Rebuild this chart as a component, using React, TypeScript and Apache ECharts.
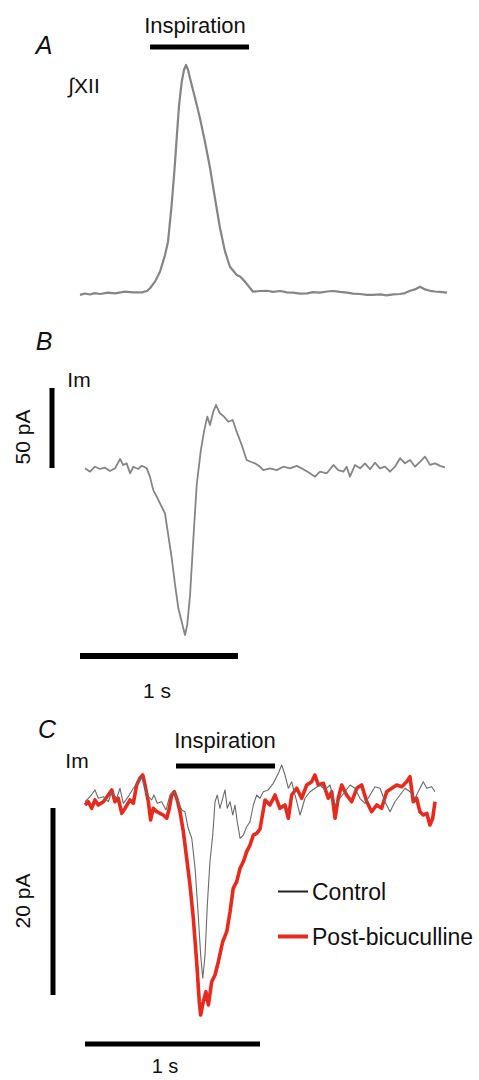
import React, { useEffect, useRef } from "react";
import * as echarts from "echarts";

// Panel A: integrated XII activity (arbitrary units, peak = 100), time in s
const traceA: [number, number][] = [
  [0, -0.4], [0.032, 0.2], [0.063, -0.2], [0.095, 0.4], [0.127, 0], [0.177, 0.6], [0.222, 0.3],
  [0.285, 1.0], [0.335, 0.7], [0.392, 0.7], [0.424, 1.3], [0.443, 2.5], [0.475, 5.4], [0.506, 9.7],
  [0.538, 17.0], [0.557, 22.8], [0.58, 38.9], [0.597, 53.4], [0.612, 68.1], [0.627, 82.5],
  [0.644, 92.7], [0.658, 97.8], [0.671, 100], [0.684, 97.8], [0.696, 94.3], [0.728, 85.6],
  [0.759, 76.9], [0.791, 66.5], [0.823, 55.0], [0.854, 41.9], [0.886, 28.8], [0.918, 18.5],
  [0.949, 11.9], [0.992, 8.3], [1.013, 7.6], [1.044, 5.4], [1.095, 1.0], [1.139, 1.3], [1.184, 1.4],
  [1.222, 0.9], [1.266, 1.3], [1.31, 0.7], [1.348, 0.6], [1.392, 0.2], [1.437, 0.3], [1.475, 0.8],
  [1.519, 0.6], [1.563, 1.1], [1.601, 1.3], [1.646, 0.9], [1.69, 0.6], [1.728, 0.2], [1.772, 0],
  [1.816, -0.4], [1.854, -0.4], [1.899, -0.2], [1.943, -0.6], [1.981, -0.2], [2.025, 0], [2.057, 0.4],
  [2.089, 1.4], [2.12, 2.0], [2.152, 3.2], [2.184, 2.0], [2.215, 1.4], [2.247, 1.1], [2.278, 0.9],
  [2.323, 0.6],
];

// Panel B: membrane current Im (pA), time in s
const traceB: [number, number][] = [
  [0, -0.2], [0.032, -2.3], [0.063, 0.8], [0.095, -0.6], [0.127, 0.2], [0.158, -1.9], [0.19, -0.2],
  [0.222, 5.6], [0.242, 1.9], [0.264, 2.9], [0.285, -3.3], [0.306, 0.8], [0.337, -0.6], [0.359, 1.4],
  [0.391, -0.2], [0.411, -5.4], [0.432, -13.8], [0.454, -17.9], [0.485, -24.2], [0.506, -28.3],
  [0.527, -41.9], [0.549, -56.4], [0.57, -73.1], [0.591, -87.7], [0.612, -96.1], [0.633, -104.4],
  [0.647, -98.1], [0.665, -79.4], [0.686, -43.9], [0.707, -10.6], [0.732, 10.2], [0.753, 22.7],
  [0.774, 32.1], [0.791, 26.9], [0.812, 35.2], [0.829, 39.4], [0.854, 34.2], [0.88, 32.1],
  [0.907, 28.9], [0.935, 30.0], [0.96, 22.7], [0.992, 14.4], [1.023, 5.0], [1.049, 3.9], [1.076, 2.9],
  [1.108, 0.8], [1.128, -1.3], [1.171, -0.2], [1.213, -1.3], [1.255, 0.8], [1.297, -0.2], [1.34, 1.3],
  [1.382, -0.8], [1.424, -3.3], [1.456, -5.4], [1.487, -2.3], [1.53, -3.3], [1.572, 1.9], [1.603, -1.3],
  [1.635, -2.3], [1.656, 0.8], [1.677, -5.4], [1.709, 1.9], [1.741, -0.2], [1.772, 2.9], [1.804, -0.8],
  [1.835, 3.3], [1.867, -0.2], [1.899, 0.8], [1.93, -2.3], [1.962, 0.8], [1.994, 6.1], [2.025, 2.9],
  [2.057, 5.0], [2.089, 0.8], [2.12, 3.9], [2.152, 7.1], [2.184, 1.9], [2.215, 2.9], [2.247, 1.3],
  [2.278, 0.4],
];

// Panel C: Im (pA) control vs post-bicuculline, time in s
const controlC: [number, number][] = [
  [0, 0.67], [0.029, 1.21], [0.057, 1.93], [0.076, 1.04], [0.105, 1.21], [0.133, 0.67], [0.153, 1.74],
  [0.181, 1.04], [0.2, 2.11], [0.219, 0.5], [0.247, 1.21], [0.276, 2.11], [0.305, 2.81], [0.324, 3.35],
  [0.343, 2.11], [0.362, 1.21], [0.381, 0.86], [0.394, 1.39], [0.413, 0.5], [0.438, 0.67], [0.463, -0.21],
  [0.486, 1.39], [0.509, 1.74], [0.533, 0.67], [0.553, -0.21], [0.571, -0.4], [0.59, -2.17],
  [0.61, -3.24], [0.629, -6.45], [0.647, -11.44], [0.661, -15.72], [0.673, -18.21], [0.686, -15.72],
  [0.699, -10.37], [0.714, -5.74], [0.73, -2.89], [0.743, 0.67], [0.756, 1.39], [0.771, -0.03],
  [0.787, 1.04], [0.8, 1.93], [0.813, -0.03], [0.829, 0.67], [0.844, -0.75], [0.857, 0.32],
  [0.87, -1.47], [0.886, -3.24], [0.905, -2.89], [0.924, -2.0], [0.943, -1.47], [0.962, 0.32],
  [0.981, 1.39], [1.0, 1.04], [1.019, 1.74], [1.047, 1.93], [1.076, 2.64], [1.105, 3.71], [1.124, 4.6],
  [1.143, 3.53], [1.162, 2.11], [1.181, 2.81], [1.21, 0.67], [1.229, -0.75], [1.257, 1.04], [1.286, 1.74],
  [1.314, 2.11], [1.343, 2.46], [1.371, 1.93], [1.4, 2.46], [1.429, 0.32], [1.457, 1.04], [1.486, 1.74],
  [1.514, 2.46], [1.543, 2.11], [1.571, 1.04], [1.6, 0.5], [1.629, 1.39], [1.657, 2.28], [1.686, 2.11],
  [1.714, 0.67], [1.743, -0.4], [1.771, 0.67], [1.8, 1.39], [1.829, 2.11], [1.857, 1.74], [1.886, 1.04],
  [1.914, 2.11], [1.933, 2.81], [1.953, 2.11], [1.981, 2.28], [2.0, 1.74],
];

const bicucC: [number, number][] = [
  [0, 0.32], [0.019, 0.67], [0.038, -0.03], [0.057, 0.86], [0.076, 0.32], [0.105, 0.67], [0.133, 1.39],
  [0.153, 1.93], [0.171, 0.67], [0.19, 1.04], [0.21, -0.57], [0.229, -0.03], [0.257, 0.86], [0.276, 0.5],
  [0.295, 2.46], [0.314, 3.18], [0.33, 3.53], [0.343, 2.46], [0.362, 0.67], [0.375, -1.28], [0.39, -0.03],
  [0.41, -0.4], [0.429, -0.57], [0.447, -0.75], [0.467, -1.1], [0.482, -0.03], [0.495, 1.39], [0.51, 1.74],
  [0.527, 0.86], [0.543, -0.4], [0.562, -2.53], [0.581, -5.38], [0.6, -8.24], [0.619, -11.8],
  [0.638, -16.44], [0.653, -20.72], [0.661, -22.14], [0.676, -20.72], [0.691, -19.65], [0.705, -21.07],
  [0.724, -18.58], [0.743, -17.86], [0.762, -16.44], [0.787, -14.3], [0.81, -13.23], [0.829, -11.09],
  [0.847, -8.59], [0.867, -7.88], [0.886, -6.45], [0.905, -5.74], [0.924, -4.67], [0.943, -3.96],
  [0.962, -2.89], [0.981, -2.71], [1.0, -2.25], [1.029, 0.86], [1.057, 0.32], [1.086, 1.39], [1.114, -0.03],
  [1.143, 0.32], [1.162, -1.1], [1.181, 1.39], [1.21, 2.11], [1.238, 1.04], [1.267, 2.46], [1.295, 2.81],
  [1.314, 3.53], [1.333, 2.46], [1.362, 2.64], [1.39, 1.04], [1.41, 1.74], [1.429, -1.1], [1.447, 1.04],
  [1.467, 2.46], [1.495, 1.39], [1.524, 0.67], [1.553, 2.11], [1.581, 2.46], [1.61, 0.67], [1.638, -0.4],
  [1.667, 0.32], [1.695, -0.03], [1.724, 1.74], [1.753, 2.11], [1.781, 2.46], [1.81, 2.28], [1.838, 2.81],
  [1.857, 3.35], [1.876, 0.67], [1.895, 1.04], [1.914, -0.4], [1.933, -0.75], [1.953, -0.57],
  [1.971, -1.82], [1.987, -1.1], [2.0, 0.67],
];

// Scale bars and inspiration periods (data units)
const scaleTime = 1; // s
const scaleB_pA = 50;
const scaleC_pA = 20;
const inspA: [number, number] = [0.443, 1.07];
const inspC: [number, number] = [0.52, 1.086];

const FONT = "'Liberation Sans', Arial, Helvetica, sans-serif";

export default function App() {
  const ref = useRef<HTMLDivElement>(null);
  useEffect(() => {
    document.body.style.margin = "0";
    if (!ref.current) return;
    const chart = echarts.init(ref.current, undefined, { renderer: "svg" });

    const pxA = { l: 80, s: 158, y0: 294, k: 2.29 };
    const pxB = { l: 85, s: 158, y0: 468, k: 1.6 };
    const pxC = { l: 85, s: 175, y0: 808, k: 9.35 };
    const mk = (p: any, tMin: number, tMax: number, vMin: number, vMax: number) => ({
      grid: { left: p.l + tMin * p.s, width: (tMax - tMin) * p.s, top: p.y0 - vMax * p.k, height: (vMax - vMin) * p.k },
      x: { min: tMin, max: tMax },
      y: { min: vMin, max: vMax },
    });
    const gA = mk(pxA, -0.25, 2.4, -10, 115);
    const gB = mk(pxB, -0.3, 2.4, -130, 60);
    const gC = mk(pxC, -0.25, 2.2, -28, 8);
    const gs = [gA, gB, gC];

    const line = (data: any[], idx: number, color: string, width: number, z = 2, name?: string) => ({
      type: "line",
      name,
      data,
      xAxisIndex: idx,
      yAxisIndex: idx,
      showSymbol: false,
      symbol: "none",
      silent: true,
      clip: false,
      z,
      itemStyle: { color },
      lineStyle: { color, width, cap: "butt", join: "round" },
    });

    const tVbarB = (52 - pxB.l) / pxB.s;
    const vHbarB = (468 - 656) / pxB.k;
    const tHbarB0 = (80 - pxB.l) / pxB.s;
    const tVbarC = (53 - pxC.l) / pxC.s;
    const vHbarC = (808 - 1044) / pxC.k;
    const vInspA = (294 - 47) / pxA.k;
    const vInspC = (808 - 766) / pxC.k;

    const txt = (text: string, x: number, y: number, size: number, extra: any = {}) => ({
      type: "text",
      x,
      y,
      rotation: extra.rotation || 0,
      silent: true,
      style: {
        text,
        x: 0,
        y: 0,
        fill: "#111",
        fontFamily: FONT,
        fontSize: size,
        fontStyle: extra.italic ? "italic" : "normal",
        textAlign: "center",
        textVerticalAlign: "middle",
        verticalAlign: "middle",
      },
    });

    const legendCommon = {
      left: 278,
      padding: 0,
      itemWidth: 30,
      selectedMode: false,
      textStyle: { fontFamily: FONT, fontSize: 23, color: "#111", padding: [0, 0, 0, -1] },
    };

    chart.setOption({
      animation: false,
      backgroundColor: "#ffffff",
      grid: gs.map((g) => g.grid),
      xAxis: gs.map((g, i) => ({ type: "value", gridIndex: i, min: g.x.min, max: g.x.max, show: false })),
      yAxis: gs.map((g, i) => ({ type: "value", gridIndex: i, min: g.y.min, max: g.y.max, show: false })),
      legend: [
        {
          ...legendCommon,
          data: [{ name: "Control", icon: "rect", itemStyle: { color: "#222" } }],
          top: 880,
          itemHeight: 2,
        },
        {
          ...legendCommon,
          data: [{ name: "Post-bicuculline", icon: "rect", itemStyle: { color: "#e8291c" } }],
          top: 925,
          itemHeight: 4,
        },
      ],
      graphic: [
        txt("A", 44, 45, 25, { italic: true }),
        txt("Inspiration", 195, 25, 22),
        txt("∫XII", 84, 85, 21),
        txt("B", 44, 341, 25, { italic: true }),
        txt("Im", 79, 379, 21),
        txt("50 pA", 22, 437, 21, { rotation: Math.PI / 2 }),
        txt("1 s", 157, 690, 21),
        txt("C", 47, 729, 25, { italic: true }),
        txt("Inspiration", 225, 740, 22),
        txt("Im", 77, 760, 21),
        txt("20 pA", 22, 901, 21, { rotation: Math.PI / 2 }),
        txt("1 s", 165, 1066, 20),
      ],
      series: [
        line(traceA, 0, "#858585", 2.2),
        line([[inspA[0], vInspA], [inspA[1], vInspA]], 0, "#000", 5),
        line(traceB, 1, "#858585", 1.8),
        line([[tVbarB, 0], [tVbarB, scaleB_pA]], 1, "#000", 5),
        line([[tHbarB0, vHbarB], [tHbarB0 + scaleTime, vHbarB]], 1, "#000", 6),
        line(bicucC, 2, "#e8291c", 3.6, 2, "Post-bicuculline"),
        line(controlC, 2, "#6a6a6a", 1.1, 3, "Control"),
        line([[inspC[0], vInspC], [inspC[1], vInspC]], 2, "#000", 5),
        line([[tVbarC, 0], [tVbarC, -scaleC_pA]], 2, "#000", 5),
        line([[0, vHbarC], [scaleTime, vHbarC]], 2, "#000", 5),
      ],
    });
    return () => chart.dispose();
  }, []);
  return <div ref={ref} style={{ width: 479, height: 1080 }} />;
}
